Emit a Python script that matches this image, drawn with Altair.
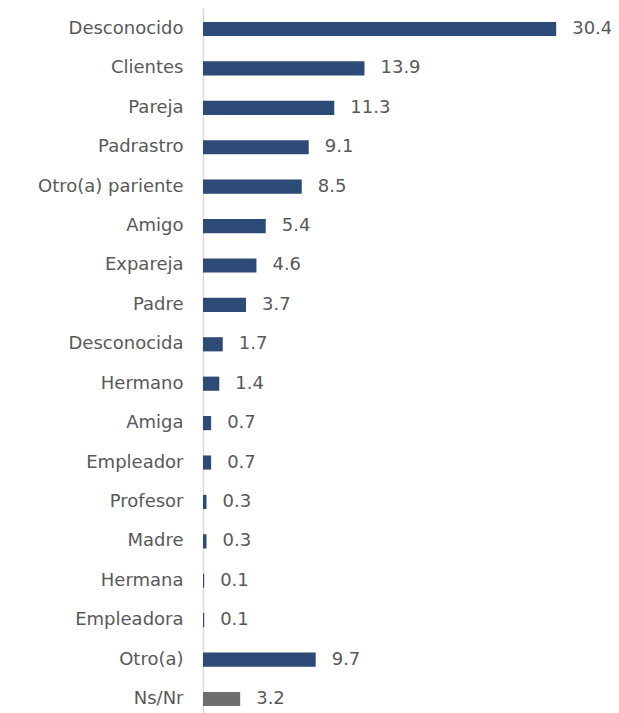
import altair as alt
import pandas as pd

categories = ["Desconocido", "Clientes", "Pareja", "Padrastro", "Otro(a) pariente", "Amigo",
              "Expareja", "Padre", "Desconocida", "Hermano", "Amiga", "Empleador", "Profesor",
              "Madre", "Hermana", "Empleadora", "Otro(a)", "Ns/Nr"]
values = [30.4, 13.9, 11.3, 9.1, 8.5, 5.4, 4.6, 3.7, 1.7, 1.4, 0.7, 0.7, 0.3, 0.3, 0.1, 0.1, 9.7, 3.2]
groups = ["main"] * 17 + ["nsnr"]

df = pd.DataFrame({"cat": categories, "val": values, "grp": groups})
df["label"] = df["val"].map(lambda v: f"{v:.1f}")

FONT = "DejaVu Sans"
FS = 18

y = alt.Y("cat:N", sort=categories, title=None,
          scale=alt.Scale(paddingInner=0.64, paddingOuter=0.353),
          axis=alt.Axis(ticks=False, labelPadding=20, labelFontSize=FS, labelColor="#595959",
                        labelFont=FONT, domainColor="#D9D9D9", domainWidth=1.5, labelLimit=300))
x = alt.X("val:Q", scale=alt.Scale(domain=[0, 34], nice=False), axis=None)

bars = alt.Chart(df).mark_bar().encode(
    y=y, x=x,
    color=alt.Color("grp:N", scale=alt.Scale(domain=["main", "nsnr"], range=["#2E4A76", "#6E6E6E"]), legend=None),
)
text = alt.Chart(df).mark_text(align="left", baseline="middle", dx=16, fontSize=FS,
                               color="#595959", font=FONT).encode(
    y=alt.Y("cat:N", sort=categories), x="val:Q", text="label:N")

chart = (bars + text).properties(
    width=395, height=712,
    autosize=alt.AutoSizeParams(type="none"),
    padding={"left": 195, "top": 0, "right": 13, "bottom": 0},
).configure_view(stroke=None)

chart.save("out.html", embed_options={"renderer": "svg", "actions": False})
